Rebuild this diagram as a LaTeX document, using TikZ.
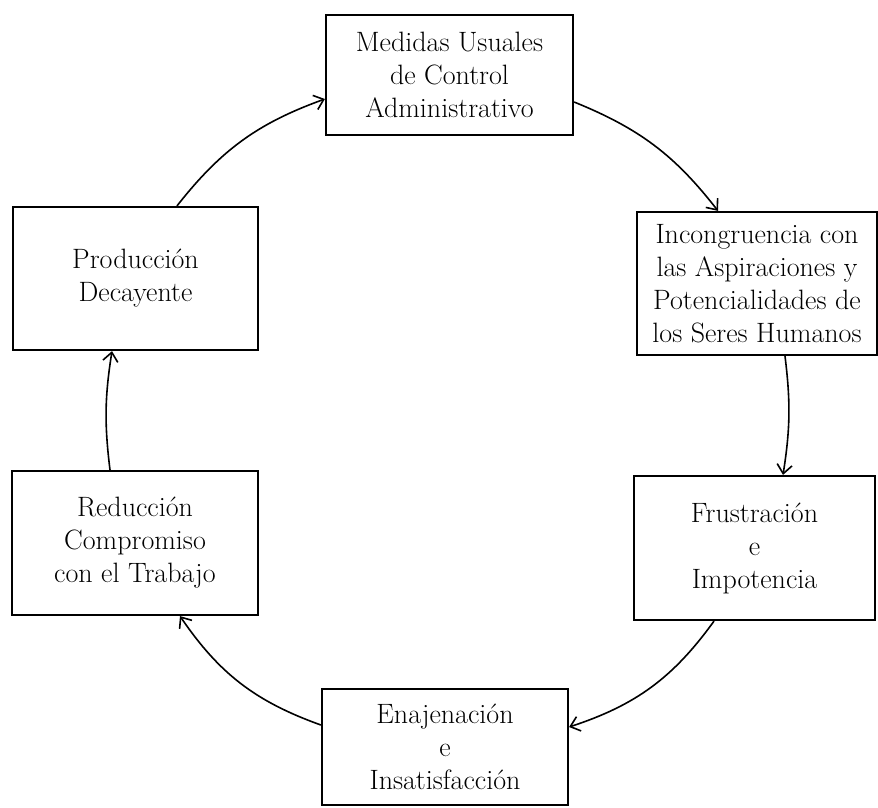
\documentclass[tikz,border=0pt]{standalone}
\usetikzlibrary{arrows.meta}
\begin{document}
\begin{tikzpicture}[x=1pt, y=-1pt,
    cbox/.style={rectangle, draw, line width=2.2pt, align=center,
                 inner sep=0pt, font=\fontsize{28}{33}\selectfont},
    arr/.style={-{Straight Barb[length=9pt, width=15pt]}, line width=1.6pt}
  ]
  \useasboundingbox (0,0) rectangle (878,808);

  % Boxes of the cycle
  \node[cbox, minimum width=247pt, minimum height=120pt] (med) at (449.5, 75)
       {Medidas Usuales\\de Control\\Administrativo};
  \node[cbox, minimum width=240pt, minimum height=143pt] (inc) at (757, 283.5)
       {Incongruencia con\\las Aspiraciones y\\Potencialidades de\\los Seres Humanos};
  \node[cbox, minimum width=241pt, minimum height=144pt] (fru) at (754.5, 548)
       {Frustración\\e\\Impotencia};
  \node[cbox, minimum width=246pt, minimum height=116pt] (ena) at (445, 747)
       {Enajenación\\e\\Insatisfacción};
  \node[cbox, minimum width=246pt, minimum height=144pt] (red) at (135, 543)
       {Reducción\\Compromiso\\con el Trabajo};
  \node[cbox, minimum width=245pt, minimum height=143pt] (pro) at (135.5, 278.5)
       {Producción\\Decayente};

  % Arrows round the cycle
  \draw[arr] ([yshift=-27pt]med.east) to[bend left=15] ([xshift=-39pt]inc.north);
  \draw[arr] ([xshift=28pt]inc.south) to[bend left=8] ([xshift=28.5pt]fru.north);
  \draw[arr] ([xshift=-40.5pt]fru.south) to[bend left=18] ([yshift=20pt]ena.east);
  \draw[arr] ([yshift=22pt]ena.west) to[bend left=18] ([xshift=45pt]red.south);
  \draw[arr] ([xshift=-25pt]red.north) to[bend left=8] ([xshift=-23.5pt]pro.south);
  \draw[arr] ([xshift=41.5pt]pro.north) to[bend left=16] ([yshift=-24pt]med.west);
\end{tikzpicture}
\end{document}
